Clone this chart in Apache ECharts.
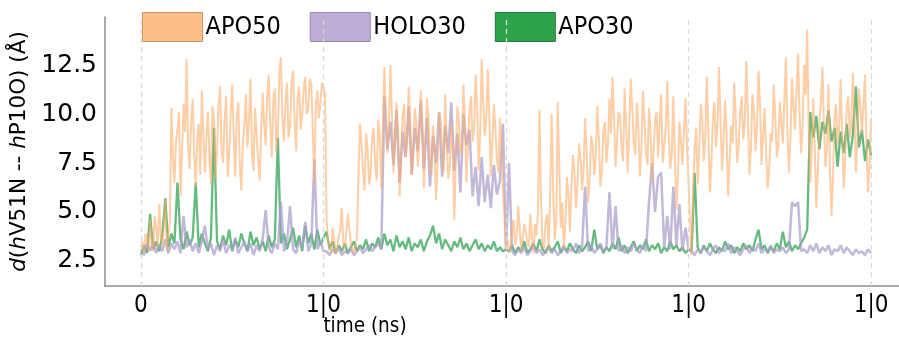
<!DOCTYPE html>
<html><head><meta charset="utf-8">
<script src="https://cdn.jsdelivr.net/npm/echarts@6/dist/echarts.min.js"></script>
<style>html,body{margin:0;padding:0;background:#fff}#c{width:899px;height:343px}</style>
</head><body><div id="c"></div>
<script>
// samples per tick interval (ticks at 0..4)
const apo50PerUnit = 120;
const holoApo30PerUnit = 60;
const xTickValues = [0, 1, 2, 3, 4];
const xTickLabels = ['0', '1|0', '1|0', '1|0', '1|0'];
const yTickValues = [2.5, 5, 7.5, 10, 12.5];
const seriesNames = ['APO50', 'HOLO30', 'APO30'];

const apo50 = [
 3.2,3.5, 2.9,3.9, 3.6,3.1, 4.6,3.4, 3.0,4.8, 4.2,3.2, 5.4,3.7, 3.3,4.3, 5.6,3.0, 3.8,4.5,
 10.3,7.8, 6.5,8.6, 9.2,10.1, 5.8,8.0, 10.5,9.1, 12.8,8.4, 7.2,9.6, 10.8,7.9, 6.3,8.7, 9.5,6.9,
 11.2,9.0, 7.0,8.8, 10.1,7.6, 6.4,10.4, 9.8,6.7, 8.0,10.5, 11.4,8.2, 7.5,9.7, 10.9,6.8, 7.9,10.0,
 11.5,8.9, 6.8,9.9, 10.6,7.4, 6.1,8.5, 9.4,11.0, 8.3,9.6, 11.8,8.0, 7.1,10.3, 10.2,7.7, 6.6,9.2,
 11.1,9.5, 8.4,10.9, 12.0,9.4, 7.8,10.7, 11.3,8.1, 9.0,12.1, 12.9,9.8, 8.6,10.6, 11.6,8.8, 9.3,11.7,
 12.2,9.7, 8.1,10.8, 11.4,9.2, 9.9,11.3, 11.9,10.0, 10.3,11.8, 11.5,9.1, 6.4,10.5, 11.2,9.8, 10.6,11.6,
 11.4,
 11.0,4.6, 3.5,3.2, 2.9,4.2, 3.6,2.9, 3.1,3.8, 4.0,5.2, 3.5,3.1, 3.0,4.9, 4.1,3.4, 3.3,2.9,
 3.0,3.7, 6.8,9.5, 8.5,7.1, 6.1,9.0, 8.2,6.4, 7.0,8.8, 9.3,7.5, 6.6,9.7, 8.9,6.2, 9.1,12.4,
 10.2,8.0, 9.4,12.5, 9.9,7.0, 8.4,10.6, 9.2,5.8, 7.4,9.9, 10.5,7.8, 8.6,11.4, 9.8,6.9, 8.1,10.3,
 9.6,7.3, 8.7,11.2, 9.5,6.2, 8.3,10.8, 9.9,7.6, 6.9,9.4, 8.4,5.6, 7.5,10.1, 9.7,8.2, 7.0,11.0,
 8.8,6.7, 7.2,9.5, 8.0,4.6, 7.7,10.4, 9.6,7.9, 8.3,11.5, 9.4,6.5, 8.5,10.2, 10.9,8.6, 9.2,12.0,
 10.4,7.1, 9.0,12.8, 10.6,8.9, 9.7,12.3, 10.1,6.8, 8.6,10.5, 9.3,7.7, 7.0,9.8, 8.5,6.0, 4.8,3.2,
 3.6,2.9, 3.2,4.1, 4.6,3.3, 3.8,5.3, 4.2,3.0, 3.1,4.4, 4.0,3.5, 3.2,4.9, 3.7,2.9, 4.4,3.8,
 5.0,10.2, 5.6,3.4, 3.1,4.5, 4.9,3.0, 5.8,10.0, 6.1,3.6, 4.4,10.6, 7.3,4.2, 5.5,3.1, 4.3,6.8,
 5.9,4.0, 6.2,7.9, 7.1,5.2, 6.4,8.5, 7.8,6.1, 7.2,9.8, 8.1,5.5, 6.7,8.9, 8.4,6.9, 7.8,10.4,
 8.9,6.3, 7.0,9.1, 9.6,7.5, 8.5,10.8, 9.0,11.9, 9.8,7.3, 8.6,10.1, 9.9,8.2, 7.6,11.3, 9.4,7.0,
 9.2,11.8, 10.4,8.5, 7.9,10.6, 9.3,6.8, 8.2,11.2, 9.7,8.0, 7.4,10.3, 9.0,6.6, 8.1,9.7, 10.1,7.8,
 9.5,11.0, 7.5,8.4, 9.3,11.7, 8.8,7.2, 8.0,10.9, 7.8,5.1, 6.9,9.6, 8.6,7.4, 9.2,10.8, 8.3,6.5,
 4.5,2.8, 6.0,8.2, 9.3,6.4, 8.1,10.5, 9.7,7.6, 8.8,11.9, 9.2,6.0, 7.4,9.8, 10.6,8.3, 9.5,12.4,
 9.9,7.1, 8.6,10.7, 9.0,5.8, 7.7,9.4, 8.5,11.6, 9.8,7.5, 8.3,10.2, 10.9,8.7, 9.6,12.7, 10.0,6.9,
 8.2,11.0, 10.1,8.1, 9.4,12.2, 10.5,7.4, 8.9,10.3, 8.0,6.2, 7.2,9.0, 8.6,11.5, 9.9,7.8, 8.4,10.6,
 9.6,8.5, 10.7,12.9, 9.1,7.0, 8.7,11.8, 10.3,9.2, 11.2,13.1, 10.0,8.0, 9.3,12.5, 11.0,14.3, 9.2,6.5,
 8.1,10.8, 8.3,5.2, 7.0,9.6, 10.6,12.4, 9.5,7.3, 8.2,11.5, 7.1,4.8, 6.8,9.9, 10.5,8.4, 9.3,11.8,
 8.9,6.2, 7.6,10.4, 10.9,8.8, 9.5,12.1, 10.2,7.0, 8.7,11.3, 10.4,9.0, 9.1,12.0, 8.4,6.0, 7.3,9.8
];

const holo30 = [
 3.1,2.8,3.4,3.0,3.5,2.9,3.3,3.0,3.6,2.9, 3.4,3.1,3.5,2.9,4.8,3.2,3.6,3.0,3.4,2.9,
 3.5,4.3,3.1,3.4,2.8,3.3,3.0,3.6,2.9,3.3, 3.1,3.7,2.9,3.2,3.5,3.0,3.4,2.8,3.3,3.0,
 3.6,5.1,3.2,2.9,3.4,3.1,5.5,3.0,3.4,5.3, 3.1,2.9,3.5,3.2,4.5,3.0,3.4,7.7,3.1,3.5, 3.0,
 3.0,2.8,3.1,2.9,3.2,2.8,3.0,2.9,3.1,2.8, 3.0,3.2,2.9,3.1,3.3,3.0,3.2,3.4,3.1,10.9,
 8.2,9.6,7.4,10.2,6.5,9.1,7.8,10.4,6.9,9.3, 8.1,10.7,7.2,9.8,6.3,8.9,7.5,10.1,6.8,9.4,
 8.0,10.6,7.1,9.0,6.0,10.0,8.4,9.2,5.8,7.3, 5.3,7.8,5.5,6.9,5.2,7.4,5.9,6.6,9.5,3.0,
 7.5,3.0,2.8,3.1,2.9,3.2,2.8,3.0,3.3,2.9, 3.1,2.8,3.0,3.2,2.9,3.1,2.8,3.0,3.3,2.9,
 3.1,3.0,3.4,2.9,3.2,6.3,3.0,3.3,2.9,3.1, 3.4,3.0,3.2,6.0,3.1,5.3,3.0,3.3,2.9,3.2,
 3.0,3.4,3.1,2.9,3.3,3.0,5.5,7.5,5.0,6.8, 7.0,3.2,4.8,3.1,6.3,3.3,5.4,3.0,4.2,3.1,
 3.0,2.8,3.1,2.9,3.2,3.0,2.8,3.1,3.3,2.9, 3.1,3.0,3.4,2.9,3.2,3.0,2.8,3.1,3.3,2.9,
 3.2,3.0,3.4,2.9,3.1,3.0,3.3,2.9,3.1,3.0, 3.2,2.9,3.1,5.5,5.3,5.5,3.0,3.1,2.9,3.3,
 3.0,3.4,2.9,3.2,3.0,3.3,2.8,3.1,3.0,3.3, 2.9,3.2,3.0,2.8,3.1,2.9,3.0,2.8,3.1,2.9
];

const apo30 = [
 2.8,3.3,2.9,4.9,3.1,3.5,3.0,3.8,5.7,3.2, 3.9,3.4,6.5,3.6,3.1,4.0,3.3,3.7,6.5,3.2,
 3.9,3.4,3.0,3.7,9.3,3.5,3.1,3.8,3.3,4.1, 3.0,3.6,3.2,3.9,3.4,3.0,4.0,3.3,3.7,3.1,
 3.5,3.0,3.8,3.2,3.6,8.8,3.4,3.9,3.1,3.6, 4.2,3.2,3.8,3.0,4.3,3.4,3.9,3.1,4.1,3.3, 3.7,
 4.0,3.1,3.5,2.9,3.3,3.0,3.4,2.9,3.2,3.5, 3.0,3.3,3.1,3.6,3.0,3.4,3.2,3.7,3.1,3.9,
 3.3,3.6,3.0,3.8,3.2,3.5,3.1,3.7,3.0,3.4, 3.2,3.6,3.0,3.5,3.8,4.3,3.4,3.9,3.1,3.6,
 3.3,3.0,3.5,3.2,3.7,3.1,3.4,3.0,3.3,3.6, 3.1,3.4,3.0,3.3,3.1,3.5,3.0,3.2,3.0,3.1,
 3.0,3.3,2.9,3.2,3.0,3.5,2.9,3.1,3.4,3.0, 3.6,3.1,2.9,3.3,3.0,3.2,3.5,2.9,3.2,3.0,
 3.4,3.1,2.9,3.3,3.0,3.2,3.5,3.0,4.1,3.1, 3.3,2.9,3.2,3.0,3.4,3.1,3.7,3.0,3.3,2.9,
 3.2,3.5,3.0,3.3,3.1,3.6,3.0,3.3,3.1,3.4, 2.9,3.2,3.0,3.5,3.1,3.3,3.0,3.2,2.9,3.1,
 3.0,7.0,3.2,2.9,3.3,3.0,3.4,3.1,2.9,3.2, 3.0,3.5,3.1,3.3,2.9,3.2,3.0,3.4,3.1,3.3,
 3.0,3.6,4.1,3.1,3.3,2.9,3.2,3.0,3.4,3.1, 4.0,3.2,3.5,3.0,3.3,3.1,3.4,3.7,4.1,10.1,
 8.8,9.9,8.2,9.6,9.0,10.2,8.6,9.3,7.3,9.1, 8.0,9.5,7.8,8.9,11.4,8.3,9.2,7.6,8.7,7.9
];

function toPairs(arr, perUnit) { return arr.map((v, i) => [i / perUnit, v]); }

const chart = echarts.init(document.getElementById('c'), null, {renderer: 'canvas'});
const axisCol = '#8c8c8c';
const fontMain = "'DejaVu Sans', sans-serif";
const fontNarrow = "'DejaVu Sans Condensed', 'Liberation Sans Narrow', 'DejaVu Sans', sans-serif";

chart.setOption({
  animation: false,
  backgroundColor: '#ffffff',
  grid: {left: 105, right: 0, top: 17, bottom: 57, containLabel: false},
  legend: {
    left: 142, top: 12, padding: 0, icon: 'rect', itemWidth: 60, itemHeight: 29, itemGap: 29,
    textStyle: {fontFamily: fontNarrow, fontSize: 25, color: '#000', padding: [0,0,0,-2]},
    data: [
      {name: seriesNames[0], itemStyle: {color: '#fdbf86', borderColor: '#c9976a', borderWidth: 1},
       textStyle: {width: 66, overflow: 'none'}},
      {name: seriesNames[1], itemStyle: {color: '#bcaed4', borderColor: '#9588a8', borderWidth: 1},
       textStyle: {width: 78, overflow: 'none'}},
      {name: seriesNames[2], itemStyle: {color: '#2ea14b', borderColor: '#237a3a', borderWidth: 1},
       textStyle: {width: 66, overflow: 'none'}}
    ]
  },
  xAxis: {
    type: 'value', min: -0.197, max: 4.153,
    axisLine: {show: true, onZero: false, lineStyle: {color: axisCol, width: 1.5}},
    axisTick: {show: false},
    splitLine: {show: false},
    axisLabel: {
      customValues: xTickValues, margin: 8, color: '#000',
      fontFamily: fontNarrow, fontSize: 24,
      formatter: v => xTickLabels[xTickValues.indexOf(v)]
    }
  },
  yAxis: {
    type: 'value', min: 1.224, max: 14.95,
    axisLine: {show: true, onZero: false, lineStyle: {color: axisCol, width: 1.5}},
    axisTick: {show: false},
    splitLine: {show: false},
    axisLabel: {
      customValues: yTickValues, margin: 8, color: '#000',
      fontFamily: fontMain, fontSize: 25,
      formatter: v => v.toFixed(1)
    },
    name: '{i|d}({i|h}V51N -- {i|h}P10O) (Å)',
    nameLocation: 'middle', nameGap: 68,
    nameTextStyle: {
      fontFamily: fontMain, fontSize: 21.5, color: '#000',
      rich: {i: {fontStyle: 'italic', fontFamily: fontMain, fontSize: 21.5, color: '#000'}}
    }
  },
  graphic: [{
    type: 'text', x: 365, y: 316,
    style: {text: 'time (ns)', fontFamily: fontNarrow, fontSize: 20.5, fill: '#000', align: 'center'}
  }],
  series: [
    {
      name: seriesNames[0], type: 'line', data: toPairs(apo50, apo50PerUnit), showSymbol: false, z: 4,
      itemStyle: {color: '#fdbf86'},
      lineStyle: {color: '#fdae6b', width: 2.0, opacity: 0.6},
      markLine: {
        silent: true, symbol: 'none', label: {show: false},
        lineStyle: {color: '#d9d9d9', type: [5, 4], width: 1.3, opacity: 1},
        data: xTickValues.map(v => ({xAxis: v}))
      }
    },
    {
      name: seriesNames[1], type: 'line', data: toPairs(holo30, holoApo30PerUnit), showSymbol: false, z: 3,
      itemStyle: {color: '#bcaed4'},
      lineStyle: {color: '#ab9dcc', width: 2.5, opacity: 0.72}
    },
    {
      name: seriesNames[2], type: 'line', data: toPairs(apo30, holoApo30PerUnit), showSymbol: false, z: 2,
      itemStyle: {color: '#2ea14b'},
      lineStyle: {color: '#31a354', width: 2.3, opacity: 0.75}
    }
  ]
});
</script></body></html>
